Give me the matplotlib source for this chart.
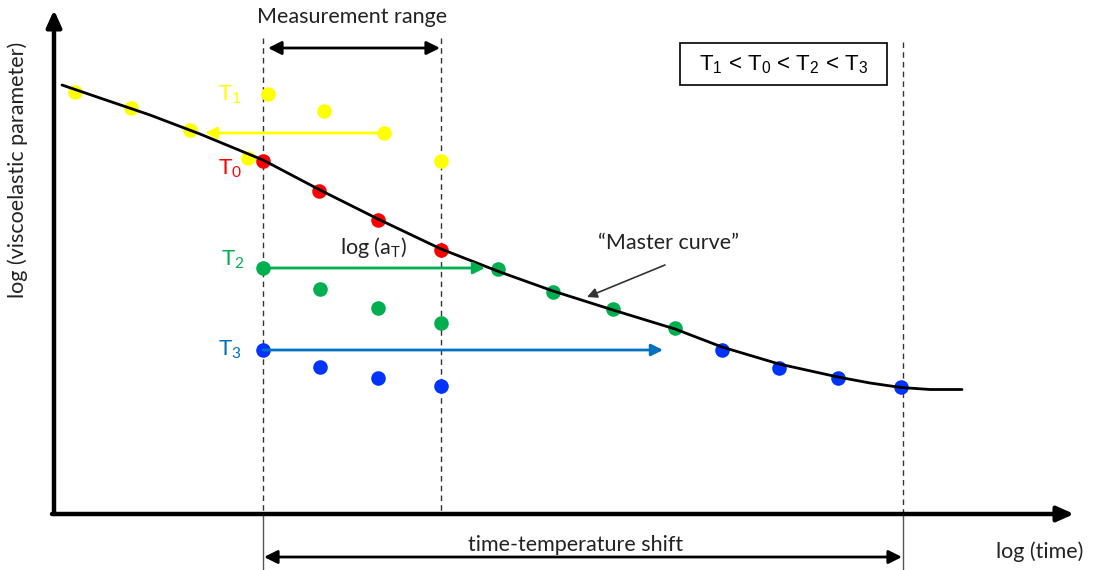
import numpy as np
import matplotlib.pyplot as plt
from matplotlib.patches import Rectangle

# Schematic coordinates: x = log(time), y = log(viscoelastic parameter) drawn downward
master_time = [62, 100, 150, 200, 263, 320, 378, 441, 500, 553, 613, 675, 722, 779, 838, 870, 901, 930, 962]
master_value = [85, 98, 115, 134, 160, 190, 219, 249, 272, 291, 310, 329, 347, 364, 377, 383, 387.5, 389.5, 389.5]

t1_time = [268, 324, 384, 441]
t1_value = [94, 111, 133, 161]
t1_shift_time = [75, 131, 190, 248]
t1_shift_value = [92, 108, 130, 158]

t0_time = [263, 319, 378, 441]
t0_value = [161, 191, 220, 250]

t2_time = [263, 320, 378, 441]
t2_value = [268, 289, 308, 323]
t2_shift_time = [498, 553, 613, 675]
t2_shift_value = [269, 292, 309, 328]

t3_time = [263, 320, 378, 441]
t3_value = [350, 367, 378, 386]
t3_shift_time = [722, 779, 838, 901]
t3_shift_value = [350, 368, 378, 387]

range_start, range_end, shift_end = 263, 441, 903

YELLOW = '#FFFF00'
RED = '#FF0000'
GREEN = '#00B050'
BLUE = '#0033FF'
LIGHT_BLUE = '#0070C0'

FONT = 'Lato'

fig = plt.figure(figsize=(10.97, 5.70), dpi=100)
ax = fig.add_axes([0, 0, 1, 1])
ax.set_xlim(0, 1097)
ax.set_ylim(570, 0)
ax.axis('off')


def arrow(x0, y0, x1, y1, color='black', lw=2.0, style='-|>', hl=0.8, hw=0.4):
    ax.annotate('', xy=(x1, y1), xytext=(x0, y0),
                arrowprops=dict(arrowstyle=f'{style},head_length={hl},head_width={hw}',
                                color=color, lw=lw, shrinkA=0, shrinkB=0))


# axes
arrow(54, 514, 54, 10, lw=3.2, hl=1.0, hw=0.45)
arrow(52, 514, 1074, 514, lw=3.2, hl=1.0, hw=0.45)

# dashed guides and solid ticks below the axis
for x, top in [(range_start, 38), (range_end, 38), (shift_end, 42)]:
    ax.plot([x, x], [top, 513], color='#333333', lw=1.0, ls=(0, (4, 3)), zorder=1)
for x in [range_start, shift_end]:
    ax.plot([x, x], [515, 570], color='#555555', lw=1.0, zorder=1)

# master curve
ax.plot(master_time, master_value, color='black', lw=2.0, solid_joinstyle='round',
        solid_capstyle='round', zorder=3)

ms = 10.5
ax.plot(t1_shift_time, t1_shift_value, 'o', color=YELLOW, ms=ms, mec='none', zorder=2)
ax.plot(t1_time, t1_value, 'o', color=YELLOW, ms=ms, mec='none', zorder=2)
ax.plot(t0_time, t0_value, 'o', color=RED, ms=ms, mec='none', zorder=2)
ax.plot(t2_time, t2_value, 'o', color=GREEN, ms=ms, mec='none', zorder=2)
ax.plot(t2_shift_time, t2_shift_value, 'o', color=GREEN, ms=ms, mec='none', zorder=2)
ax.plot(t3_time, t3_value, 'o', color=BLUE, ms=ms, mec='none', zorder=2)
ax.plot(t3_shift_time, t3_shift_value, 'o', color=BLUE, ms=ms, mec='none', zorder=2)

# shift arrows
arrow(t1_time[2], t1_value[2], 205, t1_value[2], color=YELLOW, lw=2.0, hl=0.7, hw=0.35)
arrow(t2_time[0], t2_value[0], 485, t2_value[0], color=GREEN, lw=2.0, hl=0.7, hw=0.35)
arrow(t3_time[0], t3_value[0], 663, t3_value[0], color=LIGHT_BLUE, lw=2.0, hl=0.7, hw=0.35)

# measurement range and time-temperature shift
arrow(268, 48, 440, 48, lw=2.0, style='<|-|>', hl=0.8, hw=0.4)
arrow(264, 557, 902, 557, lw=2.0, style='<|-|>', hl=0.8, hw=0.4)

# master curve pointer
arrow(665, 265, 587, 297, color='#333333', lw=1.2, hl=0.6, hw=0.3)

txt = dict(family=FONT, fontsize=15.5, color='#222222')
ax.text(352, 17, 'Measurement range', ha='center', va='center', **txt)
ax.text(576, 545, 'time-temperature shift', ha='center', va='center', **txt)
ax.text(1040, 552, 'log (time)', ha='center', va='center', **txt)
ax.text(668, 243, '\u201cMaster curve\u201d', ha='center', va='center', **txt)
ax.text(340, 248, r'log (a$_\mathregular{T}$)', ha='left', va='center', **txt)
ax.text(18, 170, 'log (viscoelastic parameter)', ha='center', va='center',
        rotation=90, **txt)

lab = dict(family=FONT, fontsize=16, ha='left', va='center')
ax.text(218, 95, r'T$_\mathregular{1}$', color=YELLOW, **lab)
ax.text(218, 169, r'T$_\mathregular{0}$', color=RED, **lab)
ax.text(221, 260, r'T$_\mathregular{2}$', color=GREEN, **lab)
ax.text(218, 350, r'T$_\mathregular{3}$', color=LIGHT_BLUE, **lab)

ax.add_patch(Rectangle((680, 43), 207, 42, fc='white', ec='black', lw=1.2, zorder=4))
ax.text(783, 65, r'T$_\mathregular{1}$ < T$_\mathregular{0}$ < T$_\mathregular{2}$ < T$_\mathregular{3}$',
        family='Liberation Sans', fontsize=16, ha='center', va='center', color='black',
        zorder=5)

fig.savefig('out.png', dpi=100)
